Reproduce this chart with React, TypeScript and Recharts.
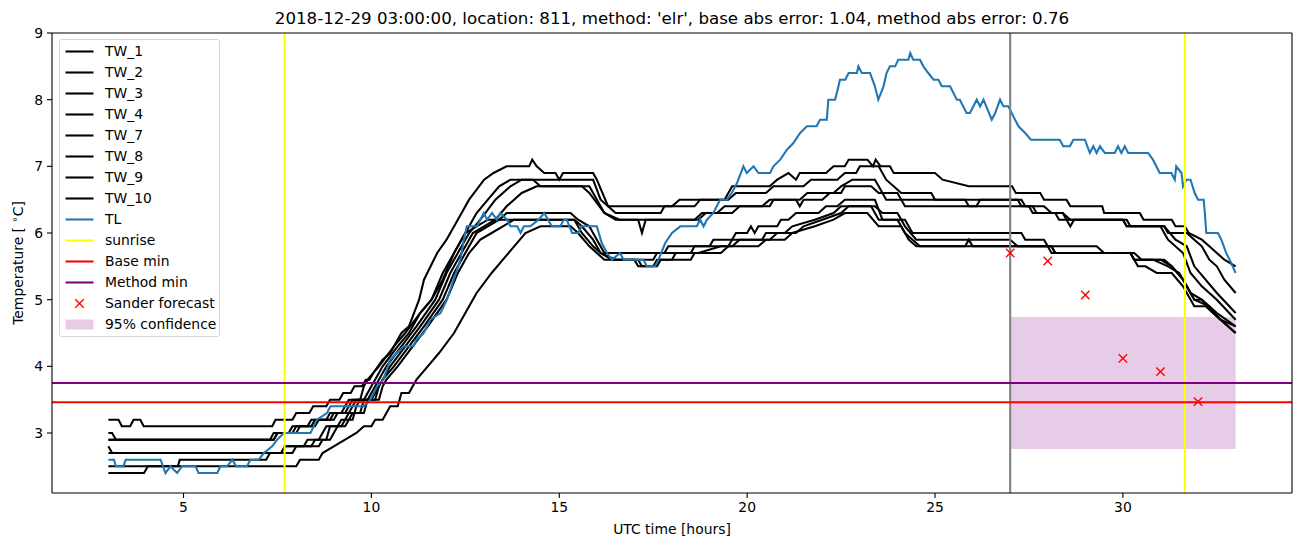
import React from 'react';
import { ComposedChart, Line, XAxis, YAxis, ReferenceLine, ReferenceArea, Scatter } from 'recharts';

type P = [number, number];

const TW_1: P[] = [[3.0,3.2],[3.27,3.2],[3.36,3.1],[3.58,3.1],[3.67,3.2],[3.85,3.2],[3.94,3.1],[7.36,3.1],[7.45,3.2],[7.9,3.2],[8.0,3.3],[8.35,3.3],[8.45,3.4],[8.8,3.4],[8.9,3.5],[9.15,3.5],[9.25,3.6],[9.45,3.6],[9.55,3.7],[9.75,3.7],[9.85,3.8],[9.95,3.8],[10.05,3.9],[10.3,4.1],[10.5,4.2],[10.8,4.5],[11.0,4.6],[11.27,5.0],[11.4,5.3],[11.75,5.7],[12.0,5.9],[12.3,6.2],[12.6,6.5],[13.0,6.8],[13.25,6.9],[13.6,7.0],[14.2,7.0],[14.28,7.1],[14.4,7.0],[14.6,6.9],[14.9,6.9],[15.0,6.8],[15.1,6.9],[15.9,6.9],[16.0,6.8],[16.3,6.4],[16.5,6.3],[17.7,6.3],[17.8,6.4],[18.6,6.4],[18.75,6.5],[19.4,6.5],[19.6,6.7],[20.6,6.7],[20.8,6.8],[21.1,6.9],[21.3,6.8],[21.4,6.9],[22.1,6.9],[22.3,7.0],[22.6,7.0],[22.7,7.1],[23.2,7.1],[23.35,7.0],[23.42,7.1],[23.55,7.0],[23.8,7.0],[23.9,6.9],[25.0,6.9],[25.2,6.8],[25.9,6.7],[27.05,6.7],[27.15,6.6],[27.8,6.6],[27.9,6.5],[28.5,6.5],[28.6,6.4],[29.45,6.4],[29.5,6.3],[30.45,6.3],[30.55,6.2],[31.3,6.2],[31.4,6.1],[31.65,6.1],[31.75,6.0],[32.1,5.9],[32.3,5.8],[32.5,5.7],[32.7,5.6],[33.0,5.5]];
const TW_2: P[] = [[3.0,3.0],[3.1,3.0],[3.2,2.9],[7.4,2.9],[7.5,3.0],[7.9,3.0],[8.0,3.1],[8.4,3.1],[8.5,3.2],[8.9,3.2],[9.0,3.3],[9.3,3.3],[9.4,3.4],[9.5,3.5],[9.8,3.5],[9.9,3.6],[10.0,3.7],[10.3,4.0],[10.7,4.3],[11.0,4.5],[11.3,4.8],[11.6,5.0],[11.9,5.3],[12.2,5.7],[12.5,6.0],[12.8,6.3],[13.1,6.5],[13.4,6.7],[13.7,6.8],[15.9,6.8],[16.1,6.5],[16.3,6.4],[18.0,6.4],[18.2,6.5],[19.5,6.5],[19.7,6.6],[20.5,6.6],[20.7,6.7],[21.5,6.7],[21.7,6.8],[22.4,6.8],[22.6,6.9],[22.9,6.9],[23.0,7.0],[23.5,7.0],[23.7,6.8],[24.1,6.6],[24.9,6.6],[25.0,6.5],[27.2,6.5],[27.3,6.4],[27.5,6.4],[27.6,6.3],[28.4,6.3],[28.5,6.2],[28.6,6.1],[28.7,6.2],[30.0,6.2],[30.1,6.1],[31.1,6.1],[31.2,6.0],[31.7,6.0],[31.9,5.9],[32.1,5.8],[32.3,5.6],[32.5,5.5],[32.7,5.3],[33.0,5.1]];
const TW_3: P[] = [[3.0,2.9],[7.4,2.9],[7.5,3.0],[8.0,3.0],[8.1,3.1],[8.5,3.1],[8.6,3.2],[9.0,3.2],[9.1,3.3],[9.4,3.3],[9.5,3.4],[9.6,3.5],[9.9,3.5],[10.0,3.6],[10.1,3.7],[10.4,4.0],[10.8,4.3],[11.2,4.6],[11.7,5.0],[12.0,5.4],[12.3,5.7],[12.6,6.0],[12.9,6.2],[13.3,6.5],[13.7,6.7],[14.0,6.8],[14.3,6.8],[14.5,6.7],[15.8,6.7],[16.2,6.3],[16.6,6.2],[18.6,6.2],[18.8,6.3],[19.6,6.3],[19.8,6.4],[20.4,6.4],[20.6,6.5],[21.4,6.5],[21.6,6.6],[22.3,6.6],[22.5,6.7],[22.8,6.8],[23.4,6.8],[23.5,6.7],[23.7,6.5],[25.8,6.5],[25.9,6.4],[26.1,6.4],[26.2,6.5],[27.3,6.5],[27.4,6.4],[27.9,6.4],[28.1,6.3],[28.4,6.3],[28.6,6.2],[30.0,6.2],[30.1,6.1],[31.1,6.1],[31.4,5.9],[31.7,5.8],[31.9,5.5],[32.2,5.3],[32.5,5.1],[33.0,4.8]];
const TW_4: P[] = [[3.0,2.8],[3.1,2.7],[7.6,2.7],[7.7,2.8],[8.2,2.8],[8.3,2.9],[8.6,2.9],[8.7,3.0],[8.8,3.1],[9.1,3.1],[9.2,3.2],[9.5,3.2],[9.6,3.4],[9.7,3.5],[10.0,3.5],[10.1,3.6],[10.2,3.7],[10.5,4.0],[10.9,4.3],[11.3,4.6],[11.8,5.0],[12.1,5.4],[12.4,5.7],[12.7,6.0],[13.0,6.1],[13.3,6.2],[13.6,6.4],[14.0,6.6],[14.4,6.7],[15.6,6.7],[15.8,6.6],[16.2,6.3],[16.5,6.2],[17.1,6.2],[17.2,6.0],[17.3,6.2],[18.7,6.2],[18.9,6.3],[19.2,6.3],[19.4,6.4],[20.6,6.4],[20.7,6.5],[21.3,6.5],[21.4,6.4],[21.5,6.5],[22.0,6.5],[22.2,6.6],[22.5,6.6],[22.6,6.7],[23.3,6.7],[23.5,6.6],[24.0,6.6],[24.2,6.4],[27.6,6.4],[27.7,6.3],[28.2,6.3],[28.3,6.2],[30.1,6.2],[30.2,6.1],[31.0,6.1],[31.2,5.9],[31.6,5.7],[31.8,5.4],[32.1,5.2],[32.5,5.0],[33.0,4.7]];
const TW_7: P[] = [[3.0,2.7],[7.6,2.7],[7.7,2.8],[8.4,2.8],[8.5,2.9],[8.8,2.9],[8.9,3.1],[9.2,3.1],[9.3,3.2],[9.4,3.3],[9.7,3.3],[9.8,3.5],[10.1,3.5],[10.2,3.7],[10.3,3.8],[10.6,4.0],[11.0,4.3],[11.4,4.6],[11.9,5.0],[12.2,5.4],[12.5,5.7],[12.8,6.0],[13.1,6.1],[13.4,6.2],[13.6,6.3],[15.3,6.3],[15.5,6.2],[15.8,6.1],[16.0,5.9],[16.2,5.7],[17.8,5.7],[17.9,5.8],[19.0,5.8],[19.1,5.9],[19.6,5.9],[19.7,6.0],[20.0,6.0],[20.1,6.1],[20.2,6.0],[20.3,6.1],[20.8,6.1],[20.9,6.2],[21.1,6.2],[21.3,6.3],[21.9,6.3],[22.1,6.4],[22.4,6.4],[22.6,6.5],[23.4,6.5],[23.6,6.2],[24.2,6.2],[24.4,6.0],[27.3,6.0],[27.4,5.9],[27.9,5.9],[28.0,5.8],[29.3,5.8],[29.5,5.7],[30.2,5.7],[30.3,5.6],[31.1,5.6],[31.3,5.5],[31.6,5.3],[31.8,5.1],[32.1,5.0],[32.5,4.8],[33.0,4.6]];
const TW_8: P[] = [[3.0,2.5],[4.85,2.5],[4.9,2.6],[7.2,2.6],[7.3,2.7],[7.9,2.7],[8.0,2.8],[8.6,2.8],[8.7,2.9],[8.9,2.9],[9.0,3.0],[9.1,3.1],[9.3,3.1],[9.4,3.2],[9.5,3.3],[9.8,3.3],[9.9,3.5],[10.2,3.5],[10.3,3.7],[10.4,3.8],[10.7,4.0],[11.1,4.3],[11.5,4.6],[12.0,5.0],[12.3,5.4],[12.6,5.7],[12.9,5.9],[13.2,6.0],[13.5,6.1],[13.8,6.2],[15.4,6.2],[15.6,6.1],[15.9,5.9],[16.1,5.7],[16.5,5.6],[17.1,5.6],[17.2,5.5],[17.5,5.5],[17.6,5.6],[18.0,5.6],[18.1,5.7],[18.7,5.7],[19.3,5.8],[19.6,5.8],[19.8,5.9],[20.6,5.9],[20.8,6.0],[21.3,6.0],[21.5,6.1],[22.0,6.2],[22.5,6.3],[22.7,6.4],[23.4,6.4],[23.6,6.3],[24.0,6.3],[24.2,6.1],[24.5,5.9],[27.0,5.9],[27.2,5.8],[28.1,5.8],[28.2,5.7],[30.2,5.7],[30.3,5.6],[30.8,5.6],[31.2,5.5],[31.5,5.4],[31.7,5.2],[31.9,5.0],[32.1,5.0],[32.4,4.8],[33.0,4.5]];
const TW_9: P[] = [[3.0,2.4],[3.95,2.4],[4.05,2.5],[8.0,2.5],[8.1,2.6],[8.6,2.6],[8.7,2.7],[9.0,2.8],[9.3,2.9],[9.6,3.0],[9.8,3.1],[10.0,3.1],[10.1,3.2],[10.3,3.2],[10.4,3.3],[10.5,3.4],[10.7,3.4],[10.8,3.6],[11.0,3.6],[11.1,3.7],[11.2,3.8],[11.5,4.0],[11.8,4.2],[12.2,4.5],[12.5,4.8],[12.8,5.1],[13.2,5.4],[13.5,5.6],[13.8,5.8],[14.1,6.0],[14.5,6.1],[15.3,6.1],[15.5,6.0],[15.8,5.8],[16.2,5.6],[17.0,5.6],[17.1,5.5],[17.6,5.5],[17.7,5.6],[18.5,5.6],[18.6,5.7],[19.3,5.7],[19.5,5.8],[20.3,5.8],[20.5,5.9],[21.0,5.9],[21.2,6.0],[21.8,6.1],[22.3,6.2],[22.6,6.3],[23.2,6.3],[23.5,6.1],[24.1,6.1],[24.3,5.9],[24.5,5.8],[28.1,5.8],[28.2,5.7],[30.2,5.7],[30.4,5.5],[30.6,5.5],[30.9,5.4],[31.3,5.4],[31.6,5.2],[31.9,4.9],[32.2,4.9],[32.6,4.7],[33.0,4.5]];
const TW_10: P[] = [[3.0,2.9],[7.3,2.9],[7.4,3.0],[7.8,3.0],[7.9,3.1],[8.3,3.1],[8.4,3.2],[8.8,3.2],[8.9,3.3],[9.2,3.3],[9.3,3.4],[9.4,3.5],[9.7,3.5],[9.8,3.7],[9.9,3.8],[10.2,4.0],[10.6,4.3],[10.9,4.5],[11.3,4.8],[11.6,5.0],[11.9,5.4],[12.2,5.7],[12.5,6.0],[12.8,6.1],[13.1,6.2],[15.4,6.2],[15.6,6.0],[15.9,5.8],[16.1,5.7],[16.4,5.6],[17.5,5.6],[17.6,5.7],[18.5,5.7],[18.6,5.8],[19.5,5.8],[19.6,5.9],[20.4,5.9],[20.5,6.0],[21.0,6.0],[21.2,6.1],[21.8,6.2],[22.3,6.3],[22.5,6.4],[23.3,6.4],[23.5,6.2],[24.0,6.2],[24.2,6.0],[24.4,5.9],[24.6,5.8],[25.8,5.8],[25.9,5.9],[26.0,5.8],[28.0,5.8],[28.1,5.7],[30.3,5.7],[30.5,5.6],[31.0,5.6],[31.3,5.5],[31.6,5.3],[31.9,5.0],[32.3,4.9],[32.6,4.7],[33.0,4.6]];
const TL: P[] = [[3.0,2.6],[3.15,2.6],[3.2,2.5],[3.4,2.5],[3.46,2.6],[4.39,2.6],[4.52,2.4],[4.65,2.5],[4.83,2.4],[4.96,2.5],[5.32,2.5],[5.4,2.4],[5.9,2.4],[5.98,2.5],[6.16,2.5],[6.3,2.6],[6.4,2.5],[6.69,2.5],[6.78,2.6],[7.0,2.6],[7.14,2.7],[7.36,2.8],[7.49,2.9],[7.67,3.0],[8.38,3.0],[8.55,3.2],[8.82,3.3],[8.91,3.4],[9.8,3.4],[9.97,3.5],[10.15,3.7],[10.32,3.8],[10.5,4.1],[10.68,4.2],[10.86,4.3],[11.12,4.3],[11.2,4.4],[11.39,4.5],[11.57,4.7],[11.84,4.8],[12.01,5.0],[12.19,5.3],[12.37,5.6],[12.46,5.9],[12.54,6.1],[12.81,6.1],[12.99,6.3],[13.08,6.2],[13.21,6.3],[13.34,6.2],[13.43,6.3],[13.61,6.2],[13.7,6.1],[13.88,6.1],[13.97,6.0],[14.06,6.1],[14.23,6.1],[14.45,6.2],[14.6,6.3],[14.8,6.1],[15.03,6.1],[15.12,6.2],[15.2,6.2],[15.34,6.0],[15.5,6.0],[15.6,6.1],[16.0,6.1],[16.13,5.85],[16.27,5.7],[16.4,5.6],[16.62,5.7],[16.71,5.6],[17.24,5.6],[17.33,5.5],[17.55,5.5],[17.64,5.6],[17.82,5.85],[18.0,6.0],[18.22,6.1],[18.66,6.1],[18.75,6.2],[18.84,6.1],[18.93,6.2],[19.1,6.3],[19.28,6.5],[19.46,6.5],[19.59,6.6],[19.73,6.75],[19.9,7.0],[19.99,6.9],[20.17,7.0],[20.3,6.9],[20.61,6.9],[20.7,7.0],[20.88,7.1],[21.06,7.25],[21.23,7.35],[21.41,7.5],[21.59,7.6],[21.85,7.6],[21.94,7.7],[22.12,7.7],[22.16,8.0],[22.34,8.0],[22.43,8.2],[22.47,8.3],[22.61,8.3],[22.7,8.4],[22.92,8.4],[22.96,8.5],[23.05,8.4],[23.27,8.4],[23.4,8.2],[23.49,8.0],[23.63,8.2],[23.71,8.4],[23.8,8.5],[23.94,8.5],[24.02,8.6],[24.29,8.6],[24.34,8.7],[24.42,8.6],[24.6,8.6],[24.69,8.5],[24.82,8.4],[24.96,8.3],[25.09,8.3],[25.18,8.2],[25.4,8.2],[25.58,8.0],[25.66,8.0],[25.84,7.8],[25.93,7.8],[26.11,8.0],[26.2,7.9],[26.29,8.0],[26.51,7.7],[26.6,7.8],[26.73,8.0],[26.82,7.9],[26.95,7.9],[27.04,7.8],[27.22,7.6],[27.4,7.5],[27.55,7.4],[28.32,7.4],[28.41,7.3],[28.59,7.3],[28.68,7.4],[28.99,7.4],[29.12,7.2],[29.21,7.3],[29.3,7.2],[29.39,7.3],[29.52,7.2],[29.78,7.2],[29.87,7.3],[29.96,7.2],[30.05,7.3],[30.14,7.2],[30.67,7.2],[30.8,7.1],[30.98,6.9],[31.29,6.9],[31.38,6.8],[31.42,7.0],[31.56,6.9],[31.6,6.7],[31.69,6.8],[31.8,6.8],[31.91,6.6],[32.0,6.5],[32.15,6.5],[32.18,6.3],[32.22,6.0],[32.53,6.0],[32.62,5.9],[32.75,5.7],[32.84,5.6],[33.0,5.4]];

const sunriseHours = [7.69, 31.65];
const forecastStartHour = 27;
const baseMin = 3.46;
const methodMin = 3.75;
const sanderHours = [27, 28, 29, 30, 31, 32];
const sanderValues = [5.7, 5.58, 5.07, 4.12, 3.92, 3.47];
const confidenceHours = [27, 33];
const confidenceRange = [2.76, 4.74];
const xTicks = [5, 10, 15, 20, 25, 30];
const yTicks = [3, 4, 5, 6, 7, 8, 9];
const xDomain = [1.5, 34.5];
const yDomain = [2.1, 9.0];

const title = "2018-12-29 03:00:00, location: 811, method: 'elr', base abs error: 1.04, method abs error: 0.76";

const twSeries: { name: string; pts: P[] }[] = [
  { name: 'TW_1', pts: TW_1 },
  { name: 'TW_2', pts: TW_2 },
  { name: 'TW_3', pts: TW_3 },
  { name: 'TW_4', pts: TW_4 },
  { name: 'TW_7', pts: TW_7 },
  { name: 'TW_8', pts: TW_8 },
  { name: 'TW_9', pts: TW_9 },
  { name: 'TW_10', pts: TW_10 },
];

const toPts = (a: P[]) => a.map(([x, y]) => ({ x, y }));
const sanderPts = sanderHours.map((x, i) => ({ x, y: sanderValues[i] }));

const FONT = '"DejaVu Sans", Verdana, sans-serif';
const BLUE = '#1f77b4';
const LW = 2.08;

const XMark = (props: any) => {
  const { cx, cy } = props;
  if (cx == null || cy == null) return null;
  const r = 4.2;
  return (
    <g>
      <line x1={cx - r} y1={cy - r} x2={cx + r} y2={cy + r} stroke="#ff0000" strokeWidth={1.4} />
      <line x1={cx - r} y1={cy + r} x2={cx + r} y2={cy - r} stroke="#ff0000" strokeWidth={1.4} />
    </g>
  );
};

type LegendItem = { label: string; kind: 'line' | 'x' | 'patch'; color: string };
const legendItems: LegendItem[] = [
  ...twSeries.map((s) => ({ label: s.name, kind: 'line' as const, color: '#000000' })),
  { label: 'TL', kind: 'line', color: BLUE },
  { label: 'sunrise', kind: 'line', color: '#ffff00' },
  { label: 'Base min', kind: 'line', color: '#ff0000' },
  { label: 'Method min', kind: 'line', color: '#800080' },
  { label: 'Sander forecast', kind: 'x', color: '#ff0000' },
  { label: '95% confidence', kind: 'patch', color: '#800080' },
];

const LegendBox = () => (
  <div
    style={{
      position: 'absolute',
      left: 59,
      top: 39,
      width: 161,
      height: 298,
      border: '1px solid #d6d6d6',
      borderRadius: 3,
      background: 'rgba(255,255,255,0.8)',
      boxSizing: 'border-box',
    }}
  >
    {legendItems.map((it, i) => (
      <div key={it.label} style={{ position: 'absolute', left: 0, top: 1 + i * 21.03, height: 20, width: 160 }}>
        <svg width={30} height={20} style={{ position: 'absolute', left: 5, top: 0 }}>
          {it.kind === 'line' && <line x1={0.5} y1={10.5} x2={28.5} y2={10.5} stroke={it.color} strokeWidth={LW} />}
          {it.kind === 'x' && (
            <g>
              <line x1={10.3} y1={6.3} x2={18.7} y2={14.7} stroke={it.color} strokeWidth={1.4} />
              <line x1={10.3} y1={14.7} x2={18.7} y2={6.3} stroke={it.color} strokeWidth={1.4} />
            </g>
          )}
          {it.kind === 'patch' && <rect x={0.5} y={5.5} width={28} height={10} fill={it.color} fillOpacity={0.2} />}
        </svg>
        <span
          style={{
            position: 'absolute',
            left: 45,
            top: 0,
            lineHeight: '21px',
            fontSize: 13.9,
            fontFamily: FONT,
            color: '#000',
            whiteSpace: 'nowrap',
          }}
        >
          {it.label}
        </span>
      </div>
    ))}
  </div>
);

export default function App() {
  const tick = { fill: '#000', fontSize: 13.9, fontFamily: FONT };
  return (
    <div style={{ position: 'absolute', left: 0, top: 0, width: 1302, height: 547, background: '#fff' }}>
      <ComposedChart width={1302} height={547} margin={{ top: 33, right: 10, bottom: 0, left: 0 }}>
        <XAxis
          dataKey="x"
          type="number"
          domain={xDomain}
          ticks={xTicks}
          allowDataOverflow
          height={54}
          tick={tick}
          tickSize={5}
          tickMargin={4}
          axisLine={{ stroke: '#000', strokeWidth: 1.1 }}
          tickLine={{ stroke: '#000', strokeWidth: 1.1 }}
        />
        <YAxis
          type="number"
          domain={yDomain}
          ticks={yTicks}
          allowDataOverflow
          width={52}
          tick={tick}
          tickSize={5}
          tickMargin={4}
          axisLine={{ stroke: '#000', strokeWidth: 1.1 }}
          tickLine={{ stroke: '#000', strokeWidth: 1.1 }}
        />
        <ReferenceArea
          x1={confidenceHours[0]}
          x2={confidenceHours[1]}
          y1={confidenceRange[0]}
          y2={confidenceRange[1]}
          fill="#800080"
          fillOpacity={0.2}
          stroke="none"
          ifOverflow="visible"
        />
        {twSeries.map((s) => (
          <Line
            key={s.name}
            data={toPts(s.pts)}
            dataKey="y"
            name={s.name}
            type="linear"
            stroke="#000000"
            strokeWidth={LW}
            dot={false}
            activeDot={false}
            isAnimationActive={false}
          />
        ))}
        <Line
          data={toPts(TL)}
          dataKey="y"
          name="TL"
          type="linear"
          stroke={BLUE}
          strokeWidth={LW}
          dot={false}
          activeDot={false}
          isAnimationActive={false}
        />
        {sunriseHours.map((h) => (
          <ReferenceLine key={h} x={h} stroke="#ffff00" strokeWidth={LW} />
        ))}
        <ReferenceLine x={forecastStartHour} stroke="#808080" strokeWidth={LW} />
        <ReferenceLine y={baseMin} stroke="#ff0000" strokeWidth={LW} />
        <ReferenceLine y={methodMin} stroke="#800080" strokeWidth={LW} />
        <Scatter data={sanderPts} dataKey="y" name="Sander forecast" shape={XMark} isAnimationActive={false} />
        <ReferenceLine y={yDomain[1]} stroke="#000" strokeWidth={1.1} />
        <ReferenceLine x={xDomain[1]} stroke="#000" strokeWidth={1.1} />
      </ComposedChart>
      <svg width={1302} height={547} style={{ position: 'absolute', left: 0, top: 0, pointerEvents: 'none' }}>
        <text x={672} y={24} textAnchor="middle" fontFamily={FONT} fontSize={16.67} fill="#000">
          {title}
        </text>
        <text x={672} y={534} textAnchor="middle" fontFamily={FONT} fontSize={13.9} fill="#000">
          UTC time [hours]
        </text>
        <text transform="rotate(-90 18 263)" x={18} y={263} dy="0.35em" textAnchor="middle" fontFamily={FONT} fontSize={13.9} fill="#000">
          <tspan>Temperature [ </tspan>
          <tspan dy={-5} fontSize={10}>∘</tspan>
          <tspan dy={5}>C]</tspan>
        </text>
      </svg>
      <LegendBox />
    </div>
  );
}
